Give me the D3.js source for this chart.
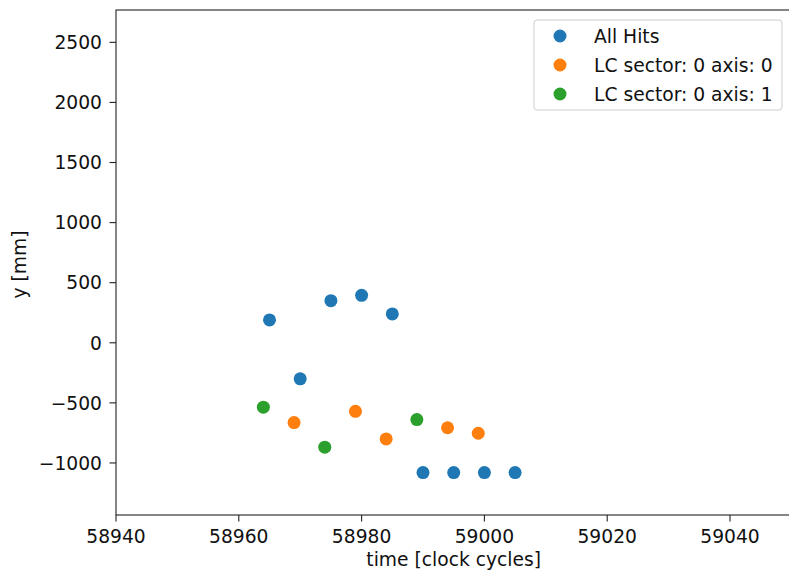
<!DOCTYPE html>
<html>
<head>
<meta charset="utf-8">
<script src="https://cdn.jsdelivr.net/npm/d3@7"></script>
<style>
  body { margin: 0; background: #fff; }
  svg { display: block; font-family: "DejaVu Sans", sans-serif; }
</style>
</head>
<body>
<svg id="chart" width="789" height="573"></svg>
<script>
// data
const seriesNames = ['All Hits', 'LC sector: 0 axis: 0', 'LC sector: 0 axis: 1'];
const seriesColors = ['#1f77b4', '#ff7f0e', '#2ca02c'];

const allHitsT = [58965, 58970, 58975, 58980, 58985, 58990, 58995, 59000, 59005];
const allHitsY = [190, -300, 350, 395, 240, -1080, -1080, -1080, -1080];

const axis0T = [58969, 58979, 58984, 58994, 58999];
const axis0Y = [-664, -570, -800, -707, -753];

const axis1T = [58964, 58974, 58989];
const axis1Y = [-536, -869, -639];

const xTicks = [58940, 58960, 58980, 59000, 59020, 59040];
const yTicks = [-1000, -500, 0, 500, 1000, 1500, 2000, 2500];

const series = [
    {name: seriesNames[0], color: seriesColors[0], t: allHitsT, y: allHitsY},
    {name: seriesNames[1], color: seriesColors[1], t: axis0T, y: axis0Y},
    {name: seriesNames[2], color: seriesColors[2], t: axis1T, y: axis1Y},
];

const plot_left = 116, plot_right = 791.4, plot_top = 10, plot_bottom = 515;
const font_size = 18.7;
const tick_len = 6.5;

const svg = d3.select('#chart');

const x = d3.scaleLinear().domain([58940, 59050]).range([plot_left, plot_right]);
const y = d3.scaleLinear().domain([-1433, 2769]).range([plot_bottom, plot_top]);

const fmt = v => String(v).replace('-', '\u2212');

// points
series.forEach(s => {
    svg.append('g').selectAll('circle')
        .data(s.t.map((t, i) => [t, s.y[i]]))
        .join('circle')
        .attr('cx', d => x(d[0]))
        .attr('cy', d => y(d[1]))
        .attr('r', 6.5)
        .attr('fill', s.color);
});

// frame
svg.append('rect')
    .attr('x', plot_left).attr('y', plot_top)
    .attr('width', plot_right - plot_left).attr('height', plot_bottom - plot_top)
    .attr('fill', 'none')
    .attr('stroke', '#222')
    .attr('stroke-width', 1.1);

// x axis
const xg = svg.append('g');
xTicks.forEach(t => {
    xg.append('line')
        .attr('x1', x(t)).attr('x2', x(t))
        .attr('y1', plot_bottom).attr('y2', plot_bottom + tick_len)
        .attr('stroke', '#222').attr('stroke-width', 1.1);
    xg.append('text').text(fmt(t))
        .attr('x', x(t)).attr('y', plot_bottom + 28)
        .attr('text-anchor', 'middle')
        .style('font-size', font_size + 'px')
        .attr('fill', '#111');
});

// y axis
const yg = svg.append('g');
yTicks.forEach(t => {
    yg.append('line')
        .attr('x1', plot_left - tick_len).attr('x2', plot_left)
        .attr('y1', y(t)).attr('y2', y(t))
        .attr('stroke', '#222').attr('stroke-width', 1.1);
    yg.append('text').text(fmt(t))
        .attr('x', plot_left - 14).attr('y', y(t))
        .attr('dy', '0.36em')
        .attr('text-anchor', 'end')
        .style('font-size', font_size + 'px')
        .attr('fill', '#111');
});

// axis labels
svg.append('text').text('time [clock cycles]')
    .attr('x', (plot_left + plot_right) / 2).attr('y', 566)
    .attr('text-anchor', 'middle')
    .style('font-size', font_size + 'px')
    .attr('fill', '#111');

svg.append('text').text('y [mm]')
    .attr('transform', `translate(26, ${(plot_top + plot_bottom) / 2 + 2}) rotate(-90)`)
    .attr('text-anchor', 'middle')
    .style('font-size', font_size + 'px')
    .attr('fill', '#111');

// legend
const lg = svg.append('g').attr('transform', 'translate(534, 20)');
lg.append('rect')
    .attr('width', 248).attr('height', 90)
    .attr('rx', 3)
    .attr('fill', 'white').attr('fill-opacity', 0.8)
    .attr('stroke', '#cccccc').attr('stroke-width', 1);

series.forEach((s, i) => {
    lg.append('circle')
        .attr('cx', 26).attr('cy', 16 + i * 29)
        .attr('r', 6.5)
        .attr('fill', s.color);
    lg.append('text').text(s.name)
        .attr('x', 60).attr('y', 16 + i * 29)
        .attr('dy', '0.36em')
        .style('font-size', font_size + 'px')
        .attr('fill', '#111');
});
</script>
</body>
</html>
